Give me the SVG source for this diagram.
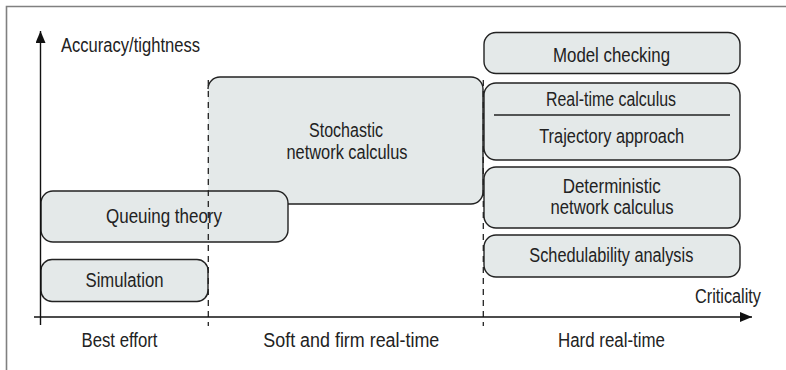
<svg xmlns="http://www.w3.org/2000/svg" width="786" height="370" viewBox="0 0 786 370">
  <style>
    text { font-family: "Liberation Sans", Arial, sans-serif; font-size: 20px; fill: #222; }
    .c { text-anchor: middle; }
    .box { fill: #e4e9e9; stroke: #222; stroke-width: 1.4; }
    .axis { stroke: #111; stroke-width: 1.4; fill: none; }
    .dash { stroke: #222; stroke-width: 1.3; stroke-dasharray: 6 5; fill: none; }
    .frame { stroke: #808080; stroke-width: 1.6; fill: none; }
  </style>
  <defs>
    <marker id="arrow" markerWidth="12" markerHeight="10" refX="12" refY="5" orient="auto" markerUnits="userSpaceOnUse">
      <path d="M0,0 L12,5 L0,10 Z" fill="#111"/>
    </marker>
  </defs>

  <!-- frame -->
  <path class="frame" d="M6.5,370 V6.5 H786"/>

  <!-- boxes (labels set in a condensed width) -->
  <g id="stochastic">
    <path d="M208,204 V89 A12,12 0 0 1 220,77 H471 A12,12 0 0 1 483,89 V192 A12,12 0 0 1 471,204 Z" fill="#e4e9e9" stroke="none"/>
    <path d="M208,89 A12,12 0 0 1 220,77 H471 A12,12 0 0 1 483,89 V192 A12,12 0 0 1 471,204 H208" fill="none" stroke="#222" stroke-width="1.4"/>
    <text class="c" x="346" y="137" textLength="74" lengthAdjust="spacingAndGlyphs">Stochastic</text>
    <text class="c" x="347" y="158.5" textLength="121" lengthAdjust="spacingAndGlyphs">network calculus</text>
  </g>
  <g id="queuing">
    <rect class="box" x="41" y="191" width="247" height="51" rx="12"/>
    <text class="c" x="164" y="223.3" textLength="116" lengthAdjust="spacingAndGlyphs">Queuing theory</text>
  </g>
  <g id="simulation">
    <rect class="box" x="41" y="259.5" width="167" height="42" rx="11"/>
    <text class="c" x="124.5" y="287" textLength="78" lengthAdjust="spacingAndGlyphs">Simulation</text>
  </g>
  <g id="model-checking">
    <rect class="box" x="484" y="32.5" width="256" height="41" rx="12"/>
    <text class="c" x="611.5" y="62" textLength="117" lengthAdjust="spacingAndGlyphs">Model checking</text>
  </g>
  <g id="rtc-trajectory">
    <rect class="box" x="484" y="83" width="256" height="77" rx="12"/>
    <line x1="494" y1="115" x2="730" y2="115" stroke="#222" stroke-width="1.4"/>
    <text class="c" x="611" y="106" textLength="130" lengthAdjust="spacingAndGlyphs">Real-time calculus</text>
    <text class="c" x="611.7" y="143" textLength="145" lengthAdjust="spacingAndGlyphs">Trajectory approach</text>
  </g>
  <g id="deterministic">
    <rect class="box" x="484" y="167" width="256" height="61" rx="12"/>
    <text class="c" x="611.7" y="192.5" textLength="98" lengthAdjust="spacingAndGlyphs">Deterministic</text>
    <text class="c" x="612" y="213.5" textLength="123" lengthAdjust="spacingAndGlyphs">network calculus</text>
  </g>
  <g id="schedulability">
    <rect class="box" x="484" y="235" width="256" height="42" rx="12"/>
    <text class="c" x="611.3" y="262" textLength="164" lengthAdjust="spacingAndGlyphs">Schedulability analysis</text>
  </g>

  <!-- axes and category separators -->
  <g id="connectors">
    <line class="dash" x1="208.3" y1="80" x2="208.3" y2="326"/>
    <line class="dash" x1="483.3" y1="80" x2="483.3" y2="326"/>
    <line class="axis" x1="40.5" y1="325" x2="40.5" y2="31" marker-end="url(#arrow)"/>
    <line class="axis" x1="34" y1="317" x2="752" y2="317" marker-end="url(#arrow)"/>
  </g>

  <!-- axis labels -->
  <text x="61" y="52" textLength="139" lengthAdjust="spacingAndGlyphs">Accuracy/tightness</text>
  <text x="695" y="303.3" textLength="66" lengthAdjust="spacingAndGlyphs">Criticality</text>
  <text class="c" x="119.5" y="347" textLength="76" lengthAdjust="spacingAndGlyphs">Best effort</text>
  <text class="c" x="351.3" y="347" textLength="176" lengthAdjust="spacingAndGlyphs">Soft and firm real-time</text>
  <text class="c" x="611.5" y="347" textLength="107" lengthAdjust="spacingAndGlyphs">Hard real-time</text>
</svg>
